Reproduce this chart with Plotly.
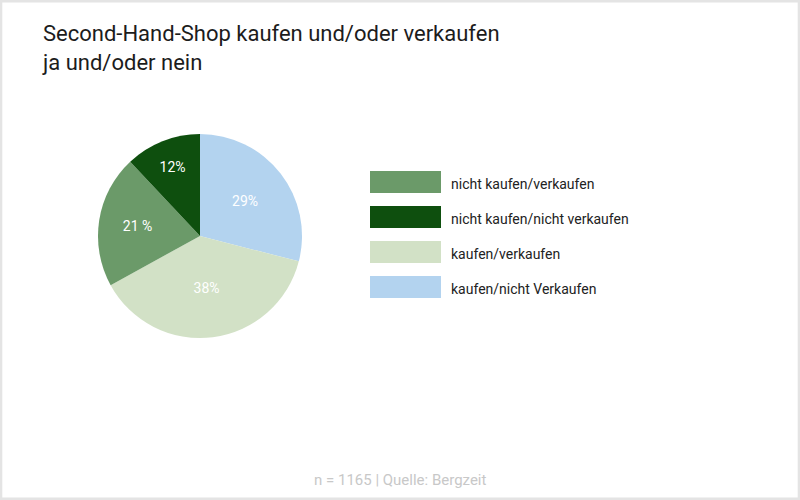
import plotly.graph_objects as go

# data
labels = ["kaufen/nicht Verkaufen", "kaufen/verkaufen", "nicht kaufen/verkaufen", "nicht kaufen/nicht verkaufen"]
values = [29, 38, 21, 12]
slice_text = ["29%", "38%", "21 %", "12%"]
colors = ["#b3d3ef", "#d2e1c6", "#6b9a69", "#0e4f0e"]

legend_order = ["nicht kaufen/verkaufen", "nicht kaufen/nicht verkaufen", "kaufen/verkaufen", "kaufen/nicht Verkaufen"]

W, H = 800, 500

fig = go.Figure()
fig.add_trace(go.Pie(
    labels=labels,
    values=values,
    text=slice_text,
    textinfo="text",
    textposition="inside",
    insidetextorientation="horizontal",
    insidetextfont=dict(family="Roboto", size=14, color="white"),
    marker=dict(colors=colors, line=dict(width=0)),
    sort=False,
    direction="clockwise",
    rotation=0,
    hoverinfo="label+percent",
    showlegend=False,
    domain=dict(x=[98 / W, 302 / W], y=[(H - 338) / H, (H - 134) / H]),
))

# custom legend (wide swatches like the original)
color_of = dict(zip(labels, colors))
shapes = []
annotations = []
for i, name in enumerate(legend_order):
    top = 171 + i * 35
    shapes.append(dict(type="rect", xref="paper", yref="paper",
                       x0=370 / W, x1=441 / W, y0=1 - (top + 22) / H, y1=1 - top / H,
                       fillcolor=color_of[name], line=dict(width=0)))
    annotations.append(dict(xref="paper", yref="paper", x=449 / W, y=1 - (top + 13) / H,
                            xanchor="left", yanchor="middle", showarrow=False, text=name,
                            font=dict(family="Roboto", size=14, color="#222222")))

# frame
shapes.append(dict(type="rect", xref="paper", yref="paper", x0=0.001, x1=0.999, y0=0.002, y1=0.998,
                   line=dict(color="#e4e4e4", width=3)))

# title
annotations.append(dict(xref="paper", yref="paper", x=40 / W, y=1 - 19 / H, xanchor="left", yanchor="top",
                        showarrow=False, align="left",
                        text="Second-Hand-Shop kaufen und/oder verkaufen<br>ja und/oder nein",
                        font=dict(family="Roboto", size=22, color="#1c1c1c")))
# footer
annotations.append(dict(xref="paper", yref="paper", x=0.5, y=1 - 480 / H, xanchor="center", yanchor="middle",
                        showarrow=False, text="n = 1165 | Quelle: Bergzeit",
                        font=dict(family="Roboto", size=15, color="#c8c8c8")))

fig.update_layout(
    width=W, height=H,
    margin=dict(l=0, r=0, t=0, b=0),
    paper_bgcolor="white",
    plot_bgcolor="white",
    shapes=shapes,
    annotations=annotations,
)

fig.write_html("out.html", config={"displayModeBar": False},
               post_script="document.body.style.margin='0';document.body.style.overflow='hidden';")
